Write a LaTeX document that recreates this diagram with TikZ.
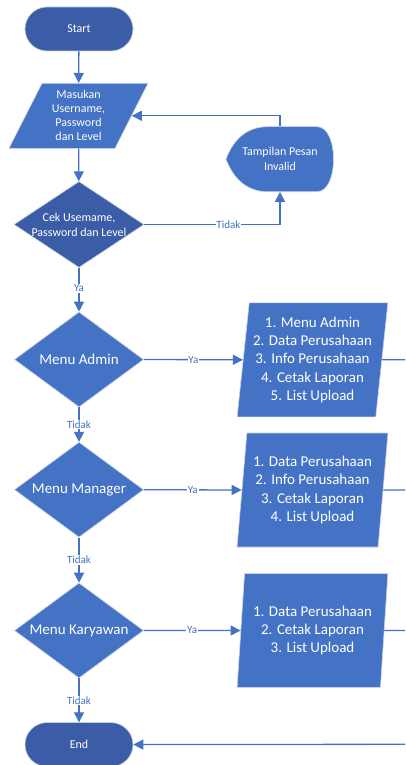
\documentclass[tikz,border=0pt]{standalone}
\usepackage{fontspec}
\setmainfont{Carlito}
\usetikzlibrary{arrows.meta,shapes.geometric,shapes.misc}
\definecolor{fA}{HTML}{4472C4}
\definecolor{fD}{HTML}{3B5CA6}
\definecolor{lnA}{HTML}{4472C4}
\definecolor{edgeA}{HTML}{C9D1E3}
\begin{document}
\begin{tikzpicture}[x=1pt,y=-1pt,
  shp/.style={draw=edgeA, line width=0.6pt, text=white, inner sep=0pt},
  term/.style={shp, rounded rectangle, fill=fD, minimum width=108pt, minimum height=44pt, font=\fontsize{12}{14.5}\selectfont},
  dec/.style={shp, diamond, fill=fA, minimum width=129pt, minimum height=95pt},
  io/.style={shp, trapezium, trapezium stretches=true, trapezium left angle=82.5, trapezium right angle=97.5, fill=fA, minimum width=151pt, minimum height=114pt, align=center, font=\fontsize{15}{18.4}\selectfont},
  txt/.style={text=white, align=center, inner sep=0pt},
  big/.style={font=\fontsize{15}{18.4}\selectfont},
  small/.style={font=\fontsize{12}{14.5}\selectfont},
  conn/.style={draw=lnA, line width=1.3pt, -{Triangle[length=10pt,width=10pt]}},
  lnk/.style={draw=lnA, line width=1.3pt},
  lab/.style={fill=white, text=lnA, font=\fontsize{11}{12}\selectfont, inner sep=0.8pt}]
\useasboundingbox (0,0) rectangle (405,765);
\fill[white] (0,0) rectangle (405,765);

% shapes
\node[term] (start) at (79,29) {Start};
\node[io, trapezium left angle=64.5, trapezium right angle=115.5, minimum width=139pt, minimum height=65pt, font=\fontsize{12}{14}\selectfont] (masuk) at (78.5,115.8) {Masukan\\Username,\\Password\\dan Level};
\node[dec, fill=fD, minimum width=130pt, minimum height=86pt] (cek) at (79,224.5) {};
\node[txt, small, font=\fontsize{12}{15}\selectfont] (cekt) at (cek) {Cek Usemame,\\Password dan Level};

\path[shp, fill=fA] (226,159.2) .. controls (234,138) and (248,126.7) .. (268,126.7) -- (317,126.7)
  .. controls (339,126.7) and (339,191.7) .. (317,191.7) -- (268,191.7)
  .. controls (248,191.7) and (234,180) .. (226,159.2) -- cycle;
\node[txt, font=\fontsize{12}{15}\selectfont, minimum width=108pt, minimum height=65pt] (tp) at (280,159.2) {Tampilan Pesan\\Invalid};

\node[dec] (adm) at (79,359.5) {};
\node[txt, big] (admt) at (adm) {Menu Admin};
\node[dec] (mgr) at (79,489.7) {};
\node[txt, big] (mgrt) at (mgr) {Menu Manager};
\node[dec] (kry) at (79,630.5) {};
\node[txt, big] (kryt) at (kry) {Menu Karyawan};

\node[io] (p1) at (312.5,359.8) {1. Menu Admin\\2. Data Perusahaan\\3. Info Perusahaan\\4. Cetak Laporan\\5. List Upload};
\node[io] (p2) at (312.5,490) {1. Data Perusahaan\\2. Info Perusahaan\\3. Cetak Laporan\\4. List Upload};
\node[io] (p3) at (312.5,630.5) {1. Data Perusahaan\\2. Cetak Laporan\\3. List Upload};

\node[term] (end) at (79,744.6) {End};

% free ends at the right edge
\coordinate (o1) at (405,359.8);
\coordinate (o2) at (405,490);
\coordinate (o3) at (405,630.5);
\coordinate (o4) at (405,744.3);

% connectors
\draw[conn] (start) -- (masuk);
\draw[conn] (masuk) -- (cek);
\draw[conn] (cek.east) -| node[lab, pos=0.31] {Tidak} (tp.south);
\draw[conn] (tp.north) |- (masuk.east);
\draw[conn] (cek.south) -- node[lab, pos=0.47] {Ya} (adm.north);
\draw[conn] (adm.east) -- node[lab] {Ya} (p1.west);
\draw[conn] (adm.south) -- node[lab] {Tidak} (mgr.north);
\draw[conn] (mgr.east) -- node[lab] {Ya} (p2.west);
\draw[conn] (mgr.south) -- node[lab] {Tidak} (kry.north);
\draw[conn] (kry.east) -- node[lab] {Ya} (p3.west);
\draw[conn] (kry.south) -- node[lab] {Tidak} (end.north);
\draw[lnk] (p1.east) -- (o1);
\draw[lnk] (p2.east) -- (o2);
\draw[lnk] (p3.east) -- (o3);
\draw[conn] (o4) -- (end.east);
\end{tikzpicture}
\end{document}
